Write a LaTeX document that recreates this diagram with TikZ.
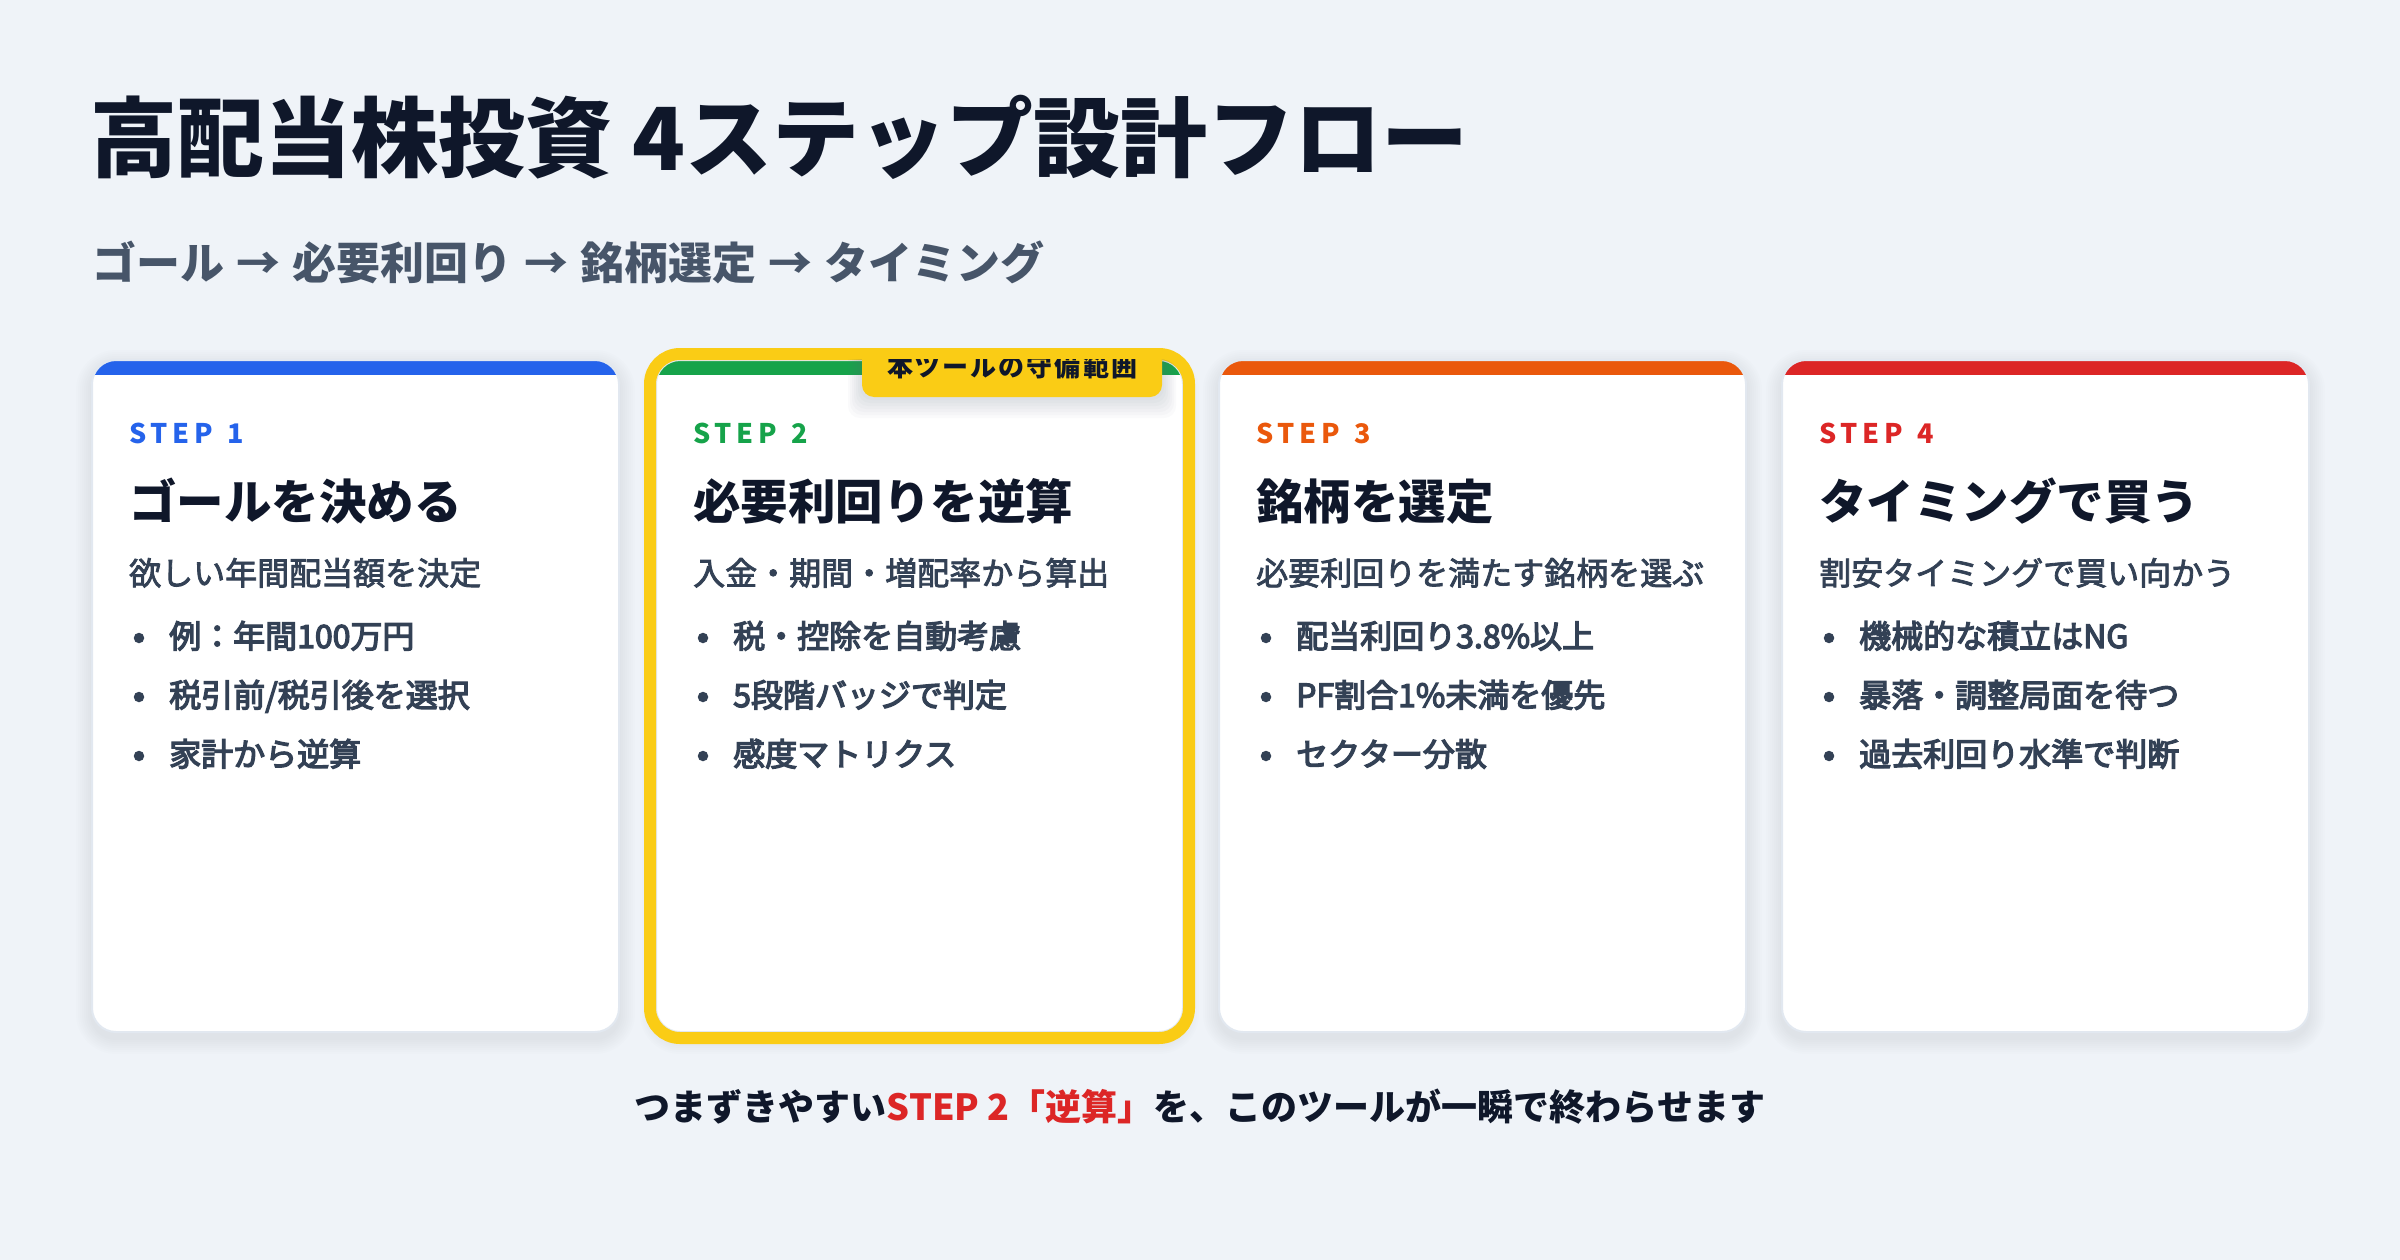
\documentclass[tikz,border=0pt]{standalone}
\usepackage{fontspec}
\setmainfont{Noto Sans CJK JP}
\newfontfamily\jpmed[FakeBold=2.5]{Noto Sans CJK JP}
\newfontfamily\jpsemi[FakeBold=4]{Noto Sans CJK JP}
\usetikzlibrary{calc}
\definecolor{bg}{HTML}{EFF3F8}
\definecolor{ink}{HTML}{0F172A}
\definecolor{sub}{HTML}{475569}
\definecolor{body}{HTML}{334155}
\definecolor{cardline}{HTML}{E2E8F0}
\definecolor{shadowc}{HTML}{64748B}
\definecolor{cblue}{HTML}{2563EB}
\definecolor{cgreen}{HTML}{16A34A}
\definecolor{corange}{HTML}{EA580C}
\definecolor{cred}{HTML}{DC2626}
\definecolor{cyellow}{HTML}{FACC15}
\newcommand\fsz[1]{\fontsize{#1pt}{#1pt}\selectfont}
\tikzset{
  cardbox/.style={rectangle, rounded corners=24pt, minimum width=527pt, minimum height=672pt,
    inner sep=0pt, outer sep=0pt, fill=white},
  steplbl/.style={anchor=base west, inner sep=0pt, font=\fsz{27}\bfseries},
  cardtitle/.style={anchor=base west, inner sep=0pt, text=ink, font=\fsz{47.5}\bfseries},
  carddesc/.style={anchor=base west, inner sep=0pt, text=body, font=\fsz{32}\jpmed},
  bullettext/.style={anchor=base west, inner sep=0pt, text=body, font=\fsz{32}\jpsemi},
  bulletdot/.style={circle, fill=body, inner sep=0pt, minimum size=10.5pt},
}
\newcommand\mkcard[9]{%
  \foreach \k [evaluate=\k as \r using 24+2*\k] in {1,...,8}{
    \fill[shadowc, opacity=0.012, rounded corners=\r pt]
      ({#2-2*\k},{360-2*\k+6}) rectangle ({#2+527+2*\k},{1032+2*\k+6});
  }
  \node[cardbox] (#1) at ({#2+263.5},696) {};
  \begin{scope}
    \clip[rounded corners=24pt] (#1.north west) rectangle (#1.south east);
    \fill[#3] (#1.north west) rectangle ($(#1.north east)+(0,15)$);
  \end{scope}
  \draw[cardline, line width=2pt, rounded corners=24pt] (#1.north west) rectangle (#1.south east);
  \node[steplbl, text=#3] (#1l) at ({#2+37},443) {S\kern4.5pt T\kern4.5pt E\kern4.5pt P\kern4.5pt\ \kern4.5pt #4};
  \node[cardtitle] (#1t) at ({#2+37},519) {#5};
  \node[carddesc] (#1d) at ({#2+37},585) {#6};
  \node[bulletdot] (#1p1) at ({#2+47},638) {};
  \node[bullettext] (#1b1) at ({#2+77},648) {#7};
  \node[bulletdot] (#1p2) at ({#2+47},697) {};
  \node[bullettext] (#1b2) at ({#2+77},707) {#8};
  \node[bulletdot] (#1p3) at ({#2+47},756) {};
  \node[bullettext] (#1b3) at ({#2+77},766) {#9};
}
\begin{document}
\begin{tikzpicture}[x=1pt,y=-1pt]
\fill[bg] (0,0) rectangle (2400,1260);
\useasboundingbox (0,0) rectangle (2400,1260);

\node[anchor=base west, inner sep=0pt, text=ink, font=\fsz{87}\bfseries] (title) at (90,171)
  {高配当株投資 4ステップ設計フロー};
\node[anchor=base west, inner sep=0pt, text=sub, font=\fsz{44}\bfseries] (subtitle) at (92,279)
  {ゴール\kern2pt\ → \kern2pt 必要利回り\kern2pt\ → \kern2pt 銘柄選定\kern2pt\ → \kern2pt タイミング};

\mkcard{c1}{92}{cblue}{1}{ゴールを決める}{欲しい年間配当額を決定}{例：年間100万円}{税引前/税引後を選択}{家計から逆算}
\mkcard{c2}{656}{cgreen}{2}{必要利回りを逆算}{入金・期間・増配率から算出}{税・控除を自動考慮}{5段階バッジで判定}{感度マトリクス}
\mkcard{c3}{1219}{corange}{3}{銘柄を選定}{必要利回りを満たす銘柄を選ぶ}{配当利回り3.8\%以上}{PF割合1\%未満を優先}{セクター分散}
\mkcard{c4}{1782}{cred}{4}{タイミングで買う}{割安タイミングで買い向かう}{機械的な積立はNG}{暴落・調整局面を待つ}{過去利回り水準で判断}

% highlight ring around step 2
\draw[cyellow, line width=12pt, rounded corners=30pt] ($(c2.north west)+(-6,-6)$) rectangle ($(c2.south east)+(6,6)$);

% badge, clipped to the card
\begin{scope}
  \clip[rounded corners=24pt] ($(c2.north west)+(0,-1)$) rectangle (c2.south east);
  \foreach \k in {1,...,7}{
    \fill[shadowc, opacity=0.03, rounded corners=12pt] ({862-2*\k},330) rectangle ({1162+2*\k},{397+3*\k});
  }
  \node[rectangle, fill=cyellow, rounded corners=12pt, minimum width=300pt, minimum height=67pt,
    inner sep=0pt] (badge) at (1012,363.5) {};
  \node[anchor=base, inner sep=0pt, text=ink, font=\fsz{26}\bfseries] (badgetext) at (1012,376)
    {本\kern2pt ツ\kern2pt ー\kern2pt ル\kern2pt の\kern2pt 守\kern2pt 備\kern2pt 範\kern2pt 囲};
\end{scope}

\node[anchor=base, inner sep=0pt, text=ink, font=\fsz{36}\bfseries] (footer) at (1200,1120)
  {つまずきやすい\textcolor{cred}{STEP 2「逆算」}を、このツールが一瞬で終わらせます};
\end{tikzpicture}
\end{document}
